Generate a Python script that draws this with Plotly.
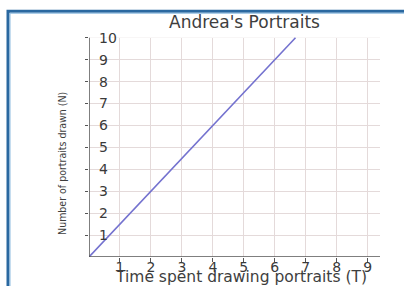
import plotly.graph_objects as go

# Data: N = number of portraits, T = time spent
time_T = [0, 1, 2, 3, 4, 5, 6, 6.67]
portraits_N = [0, 1.5, 3, 4.5, 6, 7.5, 9, 10]
x_ticks = [1, 2, 3, 4, 5, 6, 7, 8, 9]
y_ticks = [1, 2, 3, 4, 5, 6, 7, 8, 9, 10]
x_max, y_max, y_top = 9.4, 10, 10.4

title_text = "Andrea's Portraits"
x_title = "Time spent drawing portraits (T)"
y_title = "Number of portraits drawn (N)"

W, H = 404, 286
ML, MR, MB = 89, 24, 29
PW = W - ML - MR
UNIT_Y = 21.9
PH = y_top * UNIT_Y
MT = H - MB - PH

def px(xp):
    return (xp - ML) / PW

def py(yp):
    return (H - MB - yp) / PH

fig = go.Figure()
fig.add_trace(go.Scatter(
    x=time_T, y=portraits_N, mode="lines",
    line=dict(color="#7472cf", width=1.6),
    hoverinfo="skip", showlegend=False,
))
# invisible companion so the label axis (y2) is drawn
fig.add_trace(go.Scatter(
    x=time_T, y=portraits_N, mode="lines", yaxis="y2",
    line=dict(color="rgba(0,0,0,0)", width=0),
    hoverinfo="skip", showlegend=False,
))

grid = "#e4dada"
tickfont = dict(family="DejaVu Sans", size=14, color="#3a3a3a")
fig.update_layout(
    xaxis=dict(
        range=[0, x_max], tickvals=x_ticks, ticktext=[str(v) for v in x_ticks],
        showgrid=True, gridcolor=grid, gridwidth=1, showline=False,
        ticks="outside", ticklen=4, tickcolor="#555", ticklabelstandoff=-7,
        tickfont=tickfont, zeroline=False, fixedrange=True,
    ),
    yaxis=dict(
        range=[0, y_top], tickvals=y_ticks, showticklabels=False,
        showgrid=True, gridcolor=grid, gridwidth=1, showline=False,
        ticks="outside", ticklen=3, tickcolor="#555",
        zeroline=False, fixedrange=True,
    ),
    yaxis2=dict(
        range=[0, y_top], tickvals=y_ticks, ticktext=[str(v) for v in y_ticks],
        overlaying="y", side="right", anchor="free", position=px(98),
        showgrid=False, showline=False, ticks="", zeroline=False,
        tickfont=tickfont, fixedrange=True,
    ),
)

annotations = [
    dict(text=title_text, x=px(244), y=py(22), xref="paper", yref="paper",
         showarrow=False, xanchor="center", yanchor="middle",
         font=dict(family="DejaVu Sans", size=17, color="#3e3e3e")),
    dict(text=x_title, x=px(241), y=py(277), xref="paper", yref="paper",
         showarrow=False, xanchor="center", yanchor="middle",
         font=dict(family="DejaVu Sans", size=15.5, color="#3e3e3e")),
    dict(text=y_title, x=px(62), y=py(164), xref="paper", yref="paper",
         showarrow=False, xanchor="center", yanchor="middle", textangle=-90,
         font=dict(family="Liberation Sans Narrow, DejaVu Sans Condensed, Arial Narrow, sans-serif",
                   size=10.5, color="#3e3e3e")),
]

shapes = [
    # mask grid above the top value
    dict(type="rect", xref="x", yref="y", x0=0, x1=x_max, y0=y_max, y1=y_top,
         fillcolor="white", line=dict(width=0), layer="between"),
    # axis lines
    dict(type="line", xref="x", yref="y", x0=0, x1=0, y0=0, y1=y_max,
         line=dict(color="#555", width=1.5), layer="above"),
    dict(type="line", xref="x", yref="y", x0=0, x1=x_max, y0=0, y1=0,
         line=dict(color="#555", width=1.5), layer="above"),
    # blue frame
    dict(type="rect", xref="paper", yref="paper",
         x0=px(8), x1=px(420), y0=py(11.5), y1=py(300),
         line=dict(color="#2a68a0", width=3), fillcolor="rgba(0,0,0,0)", layer="above"),
    dict(type="rect", xref="paper", yref="paper",
         x0=px(10), x1=px(420), y0=py(13.5), y1=py(300),
         line=dict(color="#8dbbe0", width=1), fillcolor="rgba(0,0,0,0)", layer="above"),
]

fig.update_layout(
    width=W, height=H,
    margin=dict(l=ML, r=MR, t=MT, b=MB, autoexpand=False),
    paper_bgcolor="white", plot_bgcolor="white",
    annotations=annotations, shapes=shapes,
    showlegend=False,
)

fig.write_html("out.html", config={"displayModeBar": False},
               post_script="document.body.style.margin='0';document.body.style.overflow='hidden';")
